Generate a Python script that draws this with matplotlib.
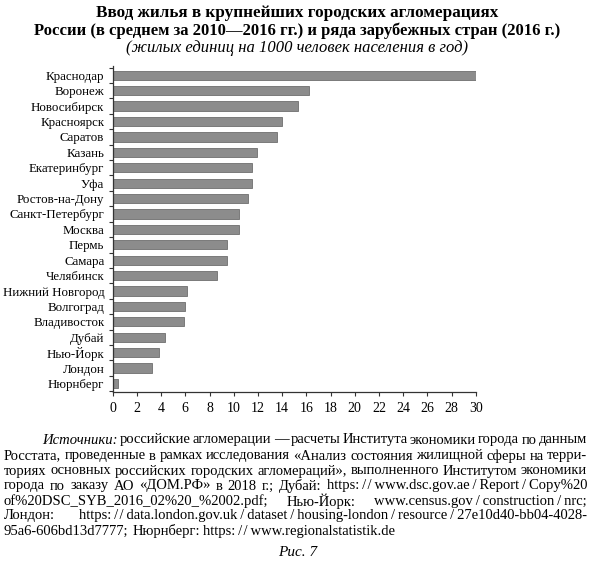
import matplotlib
matplotlib.use("Agg")
import matplotlib.pyplot as plt
from matplotlib.ticker import FixedLocator, MultipleLocator

plt.rcParams['font.family'] = ['Liberation Serif', 'DejaVu Serif']

cities = ["Краснодар", "Воронеж", "Новосибирск", "Красноярск", "Саратов", "Казань",
          "Екатеринбург", "Уфа", "Ростов-на-Дону", "Санкт-Петербург", "Москва", "Пермь",
          "Самара", "Челябинск", "Нижний Новгород", "Волгоград", "Владивосток", "Дубай",
          "Нью-Йорк", "Лондон", "Нюрнберг"]
values = [30.0, 16.2, 15.3, 14.0, 13.6, 11.9, 11.5, 11.5, 11.2, 10.4, 10.4, 9.45,
          9.45, 8.6, 6.15, 6.0, 5.9, 4.35, 3.8, 3.25, 0.4]

title1 = "Ввод жилья в крупнейших городских агломерациях"
title2 = "России (в среднем за 2010—2016 гг.) и ряда зарубежных стран (2016 г.)"
subtitle = "(жилых единиц на 1000 человек населения в год)"

source_lines = [
    "российские агломерации — расчеты Института экономики города по данным",
    "Росстата, проведенные в рамках исследования «Анализ состояния жилищной сферы на терри-",
    "ториях основных российских городских агломераций», выполненного Институтом экономики",
    "города по заказу АО «ДОМ.РФ» в 2018 г.; Дубай: https://www.dsc.gov.ae/Report/Copy%20",
    "of%20DSC_SYB_2016_02%20_%2002.pdf; Нью-Йорк: www.census.gov/construction/nrc;",
    "Лондон: https://data.london.gov.uk/dataset/housing-london/resource/27e10d40-bb04-4028-",
    "95a6-606bd13d7777; Нюрнберг: https://www.regionalstatistik.de",
]

W, H = 595, 565
fig = plt.figure(figsize=(W / 100, H / 100), dpi=100)
ax = fig.add_axes([112.7 / W, 1 - 392 / H, 363 / W, 326 / H])

y = list(range(len(cities)))
ax.barh(y, values, height=0.6, color="#8c8c8c", edgecolor="#6e6e6e", linewidth=0.6)
ax.set_ylim(len(cities) - 0.45, -0.6)
ax.set_xlim(0, 30)
ax.xaxis.set_major_locator(MultipleLocator(2))
ax.set_yticks(y)
ax.set_yticklabels(cities, fontsize=9.3)
ax.yaxis.set_minor_locator(FixedLocator([i - 0.5 for i in range(len(cities) + 1)]))
ax.tick_params(axis='y', which='major', length=0, pad=6)
ax.tick_params(axis='y', which='minor', length=3, color="#333333", width=0.8)
ax.tick_params(axis='x', length=3, labelsize=10, color="#333333", width=0.8, pad=4)
for s in ["top", "right"]:
    ax.spines[s].set_visible(False)
for s in ["left", "bottom"]:
    ax.spines[s].set_color("#333333")
    ax.spines[s].set_linewidth(0.9)

fig.text(0.5, 1 - 13 / H, title1, ha='center', va='center', fontsize=12.3, fontweight='bold')
fig.text(0.5, 1 - 31 / H, title2, ha='center', va='center', fontsize=12, fontweight='bold')
fig.text(0.5, 1 - 48 / H, subtitle, ha='center', va='center', fontsize=12, style='italic')

# justified footer, slashes in urls get thin spaces like in the print
renderer = fig.canvas.get_renderer()
left, right = 4, 587
fs = 10.5


def word_width(word, italic=False):
    t = fig.text(0, 0, word, fontsize=fs, style='italic' if italic else 'normal')
    w = t.get_window_extent(renderer).width
    t.remove()
    return w


def spaced(word):
    word = word.replace("//", "\u0000")
    word = word.replace("/", "\u2009/\u2009")
    return word.replace("\u0000", "\u2009/\u200a/\u2009")


line_y = [440, 456, 471, 486, 501, 516, 531]
for i, line in enumerate(source_lines):
    words = [spaced(w) for w in line.split()]
    italic = [False] * len(words)
    x0 = left
    if i == 0:
        words = ["Источники:"] + words
        italic = [True] + italic
        x0 = 42
    widths = [word_width(w, it) for w, it in zip(words, italic)]
    if i < len(source_lines) - 1:
        gap = (right - x0 - sum(widths)) / (len(words) - 1)
    else:
        gap = word_width("a b") - word_width("ab")
    x = x0
    for w, it, wd in zip(words, italic, widths):
        fig.text(x / W, 1 - line_y[i] / H, w, fontsize=fs, va='center',
                 style='italic' if it else 'normal')
        x += wd + gap

fig.text(0.5, 1 - 552 / H, "Рис. 7", ha='center', va='center', fontsize=11, style='italic')

fig.savefig("out.png", dpi=100)
